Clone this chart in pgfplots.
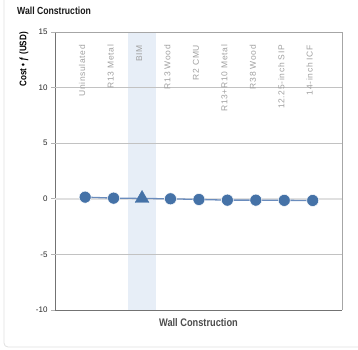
\documentclass[border=0pt]{standalone}
\usepackage{pgfplots}
\pgfplotsset{compat=1.18}
\usepackage{fontspec}
\setmainfont{Liberation Sans}
\newfontfamily\cond[FakeStretch=0.84]{Liberation Sans}
\newfontfamily\catfont[LetterSpace=8]{Liberation Sans}
\definecolor{hcblue}{HTML}{4572A7}
\definecolor{hcline}{HTML}{6A8CBD}
\definecolor{band}{HTML}{E7EEF7}
\definecolor{catgray}{HTML}{A0A0A0}
\begin{document}
\begin{tikzpicture}
	\useasboundingbox (0pt,0pt) rectangle (358pt,349pt);
	% outer panel
	\draw[black!12, line width=0.8pt, rounded corners=4pt] (4pt,360pt) -- (4pt,2pt) -- (370pt,2pt);
	\node[anchor=west, inner sep=0pt, font=\cond\bfseries\fontsize{10.3}{12}\selectfont, text=black!90] at (17pt,338.6pt) {Wall Construction};
	\node[rotate=90, anchor=east, inner sep=0pt, font=\cond\bfseries\fontsize{9.6}{11}\selectfont] at (24pt,317pt) {Cost • ƒ (USD)};
	\begin{axis}[
	at={(55pt,39pt)}, anchor=south west,
	scale only axis,
	width=287pt, height=278pt,
	xmin=-1.06, xmax=9.03,
	ymin=-10, ymax=15,
	ytick={-10,-5,0,5,10,15},
	xtick=\empty,
	axis x line*=bottom,
	axis y line*=left,
	axis line style={black!55, line width=0.9pt},
	major tick length=4pt,
	tick align=outside,
	tick style={black!30, line width=0.7pt},
	yticklabel style={font=\fontsize{8}{9}\selectfont, text=black!85},
	/pgf/number format/assume math mode=true,
	xlabel={Wall Construction},
	xlabel style={at={(axis description cs:0.5,0)}, anchor=north, inner sep=0pt, yshift=-8pt,
		font=\cond\bfseries\fontsize{11}{13}\selectfont, text=black!70},
	clip=false,
	]
		% highlighted category band
		\fill[band] (axis cs:1.5,-10) rectangle (axis cs:2.5,15);
		% grid lines
		\draw[black!24, line width=0.7pt] (axis cs:-1.06,10) -- (axis cs:9.03,10);
		\draw[black!24, line width=0.7pt] (axis cs:-1.06,5) -- (axis cs:9.03,5);
		\draw[black!24, line width=0.7pt] (axis cs:-1.06,-5) -- (axis cs:9.03,-5);
		\draw[black!12, line width=1.8pt] (axis cs:-1.06,0) -- (axis cs:9.03,0);
		\draw[black!35, line width=0.8pt] (axis cs:-1.06,15) -- (axis cs:9.03,15) -- (axis cs:9.03,-10);
		\addplot[hcline, line width=1.3pt, no markers] coordinates {
			(0,0.15) (1,0.06) (2,0.03) (3,0.00) (4,-0.06) (5,-0.12) (6,-0.12) (7,-0.14) (8,-0.15)
		};
		\addplot[only marks, mark=*, mark size=6pt, hcblue, mark options={draw=white, line width=0.5pt}] coordinates {
			(0,0.15) (1,0.06) (3,0.00) (4,-0.06) (5,-0.12) (6,-0.12) (7,-0.14) (8,-0.15)
		};
		\addplot[only marks, mark=triangle*, mark size=8pt, hcblue, mark options={draw=hcblue}] coordinates {
			(2,0.03)
		};
		\node[rotate=90, anchor=base east, inner sep=0pt, font=\catfont\fontsize{8.5}{10}\selectfont, text=catgray] at (axis cs:0,13.85) {Uninsulated};
		\node[rotate=90, anchor=base east, inner sep=0pt, font=\catfont\fontsize{8.5}{10}\selectfont, text=catgray] at (axis cs:1,13.85) {R13 Metal};
		\node[rotate=90, anchor=base east, inner sep=0pt, font=\catfont\fontsize{8.5}{10}\selectfont, text=catgray] at (axis cs:2,13.85) {BIM};
		\node[rotate=90, anchor=base east, inner sep=0pt, font=\catfont\fontsize{8.5}{10}\selectfont, text=catgray] at (axis cs:3,13.85) {R13 Wood};
		\node[rotate=90, anchor=base east, inner sep=0pt, font=\catfont\fontsize{8.5}{10}\selectfont, text=catgray] at (axis cs:4,13.85) {R2 CMU};
		\node[rotate=90, anchor=base east, inner sep=0pt, font=\catfont\fontsize{8.5}{10}\selectfont, text=catgray] at (axis cs:5,13.85) {R13+R10 Metal};
		\node[rotate=90, anchor=base east, inner sep=0pt, font=\catfont\fontsize{8.5}{10}\selectfont, text=catgray] at (axis cs:6,13.85) {R38 Wood};
		\node[rotate=90, anchor=base east, inner sep=0pt, font=\catfont\fontsize{8.5}{10}\selectfont, text=catgray] at (axis cs:7,13.85) {12.25-inch SIP};
		\node[rotate=90, anchor=base east, inner sep=0pt, font=\catfont\fontsize{8.5}{10}\selectfont, text=catgray] at (axis cs:8,13.85) {14-inch ICF};
	\end{axis}
\end{tikzpicture}
\end{document}
